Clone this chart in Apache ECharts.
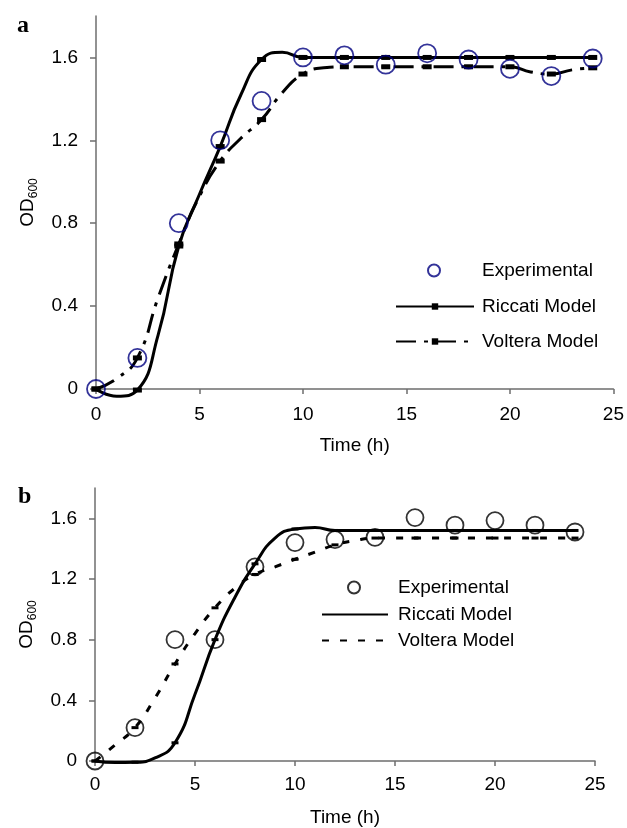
<!DOCTYPE html>
<html>
<head>
<meta charset="utf-8">
<script src="https://cdn.jsdelivr.net/npm/echarts@6/dist/echarts.min.js"></script>
<style>
  html, body { margin: 0; padding: 0; background: #fff; }
  #chart { width: 627px; height: 828px; }
</style>
</head>
<body>
<div id="chart"></div>
<script>
// measurement times (h) and hourly model readings
const sampleTimes = [0, 2, 4, 6, 8, 10, 12, 14, 16, 18, 20, 22, 24]
const hours = [0, 1, 2, 3, 4, 5, 6, 7, 8, 9, 10, 11, 12, 13, 14, 15, 16, 17, 18, 19, 20, 21, 22, 23, 24]
const xTicks = [0, 5, 10, 15, 20, 25]
const yTicks = [0, 0.4, 0.8, 1.2, 1.6]

// panel a
const expA = [0, 0.15, 0.8, 1.2, 1.39, 1.6, 1.61, 1.565, 1.62, 1.59, 1.545, 1.51, 1.595]
const riccatiA = [0, -0.035, -0.005, 0.26, 0.69, 0.94, 1.17, 1.42, 1.59, 1.625, 1.6, 1.6, 1.6,
  1.6, 1.6, 1.6, 1.6, 1.6, 1.6, 1.6, 1.6, 1.6, 1.6, 1.6, 1.6]
const volteraA = [0, 0.05, 0.15, 0.44, 0.7, 0.93, 1.1, 1.21, 1.3, 1.43, 1.52, 1.55, 1.555,
  1.555, 1.555, 1.555, 1.555, 1.555, 1.555, 1.555, 1.555, 1.53, 1.52, 1.54, 1.55]

// panel b
const expB = [0, 0.22, 0.8, 0.8, 1.28, 1.44, 1.46, 1.475, 1.605, 1.555, 1.585, 1.555, 1.51]
const riccatiB = [0, -0.01, -0.008, 0.02, 0.12, 0.44, 0.8, 1.08, 1.3, 1.47, 1.53, 1.54, 1.52,
  1.52, 1.52, 1.52, 1.52, 1.52, 1.52, 1.52, 1.52, 1.52, 1.52, 1.52, 1.52]
const volteraB = [0, 0.105, 0.22, 0.415, 0.64, 0.84, 1.01, 1.14, 1.23, 1.28, 1.33, 1.377, 1.425,
  1.453, 1.47, 1.47, 1.47, 1.47, 1.47, 1.47, 1.47, 1.47, 1.47, 1.47, 1.47]

const font = '"Liberation Sans", Arial, sans-serif'
const axisColor = '#6e6e6e'
const stripName = name => name.replace(' (b)', '')

const xAxis = (gridIndex, labelMargin, nameGap) => ({
  gridIndex,
  type: 'value',
  min: 0,
  max: 25,
  interval: 5,
  name: 'Time (h)',
  nameLocation: 'middle',
  nameGap,
  nameTextStyle: { fontSize: 19, color: '#000', fontFamily: font },
  axisLine: { lineStyle: { color: axisColor, width: 1.5 } },
  axisTick: { length: 5, lineStyle: { color: axisColor, width: 1.5 }, customValues: xTicks },
  axisLabel: { fontSize: 19, color: '#000', fontFamily: font, margin: labelMargin, customValues: xTicks },
  splitLine: { show: false }
})

const yAxis = (gridIndex, nameGap) => ({
  gridIndex,
  type: 'value',
  min: 0,
  max: 1.8,
  interval: 0.4,
  name: '{o|OD}{s|600}',
  nameLocation: 'middle',
  nameGap,
  nameTextStyle: {
    fontFamily: font,
    color: '#000',
    rich: {
      o: { fontSize: 19, lineHeight: 24, fontFamily: font, color: '#000' },
      s: { fontSize: 12, lineHeight: 12, verticalAlign: 'bottom', fontFamily: font, color: '#000' }
    }
  },
  axisLine: { show: true, lineStyle: { color: axisColor, width: 1.5 } },
  axisTick: { show: true, length: 6, lineStyle: { color: axisColor, width: 1.5 }, customValues: yTicks },
  axisLabel: {
    fontSize: 19,
    color: '#000',
    fontFamily: font,
    margin: 18,
    customValues: yTicks,
    formatter: v => (v === 0 ? '0' : v.toFixed(1))
  },
  splitLine: { show: false }
})

// markers only sit on the even-hour points
const modelLine = (name, idx, values, lineType, marker) => ({
  name,
  type: 'line',
  xAxisIndex: idx,
  yAxisIndex: idx,
  data: hours.map((t, i) => ({ value: [t, values[i]], symbol: t % 2 === 0 ? 'rect' : 'none' })),
  smooth: 0.5,
  clip: false,
  symbol: 'rect',
  symbolSize: marker,
  itemStyle: { color: '#000' },
  lineStyle: { color: '#000', width: 3, type: lineType },
  z: 2
})

const experimental = (name, idx, values, color, size) => ({
  name,
  type: 'scatter',
  xAxisIndex: idx,
  yAxisIndex: idx,
  data: sampleTimes.map((t, i) => [t, values[i]]),
  clip: false,
  symbol: 'circle',
  symbolSize: size,
  itemStyle: { color: 'rgba(0,0,0,0)', borderColor: color, borderWidth: 1.8 },
  z: 3
})

const legendBase = {
  orient: 'vertical',
  selectedMode: false,
  padding: 0,
  formatter: stripName,
  textStyle: { fontSize: 19, color: '#000', fontFamily: font, padding: [0, 0, 0, 3] }
}
const legendText = pad => ({ ...legendBase.textStyle, padding: [0, 0, 0, pad] })

const option = {
  animation: false,
  backgroundColor: '#fff',
  grid: [
    { left: 96, top: 16, width: 518, height: 373 },
    { left: 95, top: 488, width: 500, height: 275 }
  ],
  xAxis: [xAxis(0, 16, 47), xAxis(1, 14, 47)],
  yAxis: [yAxis(0, 56), yAxis(1, 56)],
  legend: [
    { ...legendBase, left: 427, top: 261, itemWidth: 12, itemHeight: 12,
      textStyle: legendText(37), data: ['Experimental'] },
    { ...legendBase, left: 395, top: 297, itemWidth: 78, itemHeight: 8, itemGap: 16,
      data: ['Riccati Model', 'Voltera Model'] },
    { ...legendBase, left: 347, top: 578, itemWidth: 12, itemHeight: 12,
      textStyle: legendText(33), data: ['Experimental (b)'] },
    { ...legendBase, left: 321, top: 605, itemWidth: 66, itemHeight: 8, itemGap: 7,
      itemStyle: { color: 'rgba(0,0,0,0)' },
      textStyle: legendText(5),
      data: ['Riccati Model (b)', 'Voltera Model (b)'] }
  ],
  graphic: [
    { type: 'text', left: 17, top: 14, style: { text: 'a', font: 'bold 24px "Liberation Serif", serif', fill: '#000' } },
    { type: 'text', left: 18, top: 485, style: { text: 'b', font: 'bold 24px "Liberation Serif", serif', fill: '#000' } }
  ],
  series: [
    modelLine('Riccati Model', 0, riccatiA, 'solid', [9, 5]),
    modelLine('Voltera Model', 0, volteraA, [20, 8, 4, 8], [9, 5]),
    experimental('Experimental', 0, expA, '#00007f', 18),
    modelLine('Riccati Model (b)', 1, riccatiB, 'solid', [7, 3]),
    modelLine('Voltera Model (b)', 1, volteraB, [7, 11], [7, 3]),
    experimental('Experimental (b)', 1, expB, '#000', 17)
  ]
}

const chart = echarts.init(document.getElementById('chart'))
chart.setOption(option)
</script>
</body>
</html>
